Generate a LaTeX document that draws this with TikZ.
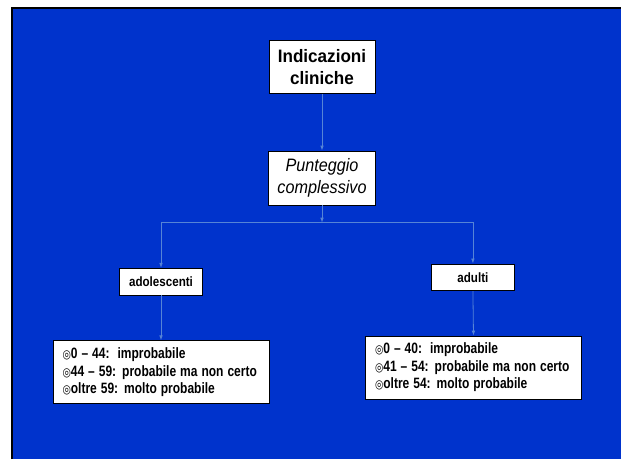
\documentclass[tikz,border=0pt]{standalone}
\usepackage{fontspec}
\usepackage{graphicx}
\setmainfont{Liberation Sans}
\newfontfamily\symfont{DejaVu Sans}
\usetikzlibrary{arrows.meta}
\definecolor{slideblue}{RGB}{0,51,204}
\definecolor{linkblue}{RGB}{86,132,214}
\tikzset{
  box/.style={draw=black, line width=0.8pt, fill=white, inner sep=0pt, align=center, text=black},
  link/.style={draw=linkblue, line width=0.8pt},
  tip/.style={-{Latex[length=5pt,width=3.6pt]}},
  listbox/.style={box, align=left, text width=197pt, inner xsep=9.5pt, minimum height=63pt,
     font=\fontsize{15}{17.5}\selectfont\bfseries}
}
\newcommand{\sq}[2]{\scalebox{#1}[1]{#2}}
\newcommand{\blt}{{\symfont\fontsize{12}{17.5}\selectfont\mdseries ◎}}
\begin{document}
\begin{tikzpicture}[x=1pt,y=-1pt]
\useasboundingbox (0,0) rectangle (621,459);
\fill[white] (0,0) rectangle (621,459);
\fill[slideblue] (12,8) rectangle (621,459);
\draw[black, line width=2pt] (12,459) -- (12,8) -- (621,8);

\node[box, minimum width=106pt, minimum height=53.3pt, font=\fontsize{18}{22}\selectfont\bfseries] (ind) at (322,66.7) {\sq{0.95}{Indicazioni}\\\sq{0.95}{cliniche}};
\node[box, minimum width=107pt, minimum height=54pt, font=\fontsize{18}{22}\selectfont\itshape] (pun) at (322,178) {\sq{0.9}{Punteggio}\\\sq{0.9}{complessivo}};
\node[box, minimum width=83pt, minimum height=26.7pt, font=\fontsize{13.5}{16}\selectfont\bfseries] (ado) at (161,281.7) {\sq{0.86}{adolescenti}};
\node[box, minimum width=82.3pt, minimum height=26.7pt, font=\fontsize{13.5}{16}\selectfont\bfseries] (adu) at (472.9,277.3) {\sq{0.86}{adulti}};
\node[listbox] (l1) at (161,372.3) {\sq{0.8}{\blt0 – 44:\ \ improbabile}\\\sq{0.8}{\blt44 – 59: probabile ma non certo}\\\sq{0.8}{\blt oltre 59: molto probabile}};
\node[listbox] (l2) at (473.5,367.5) {\sq{0.8}{\blt0 – 40:\ \ improbabile}\\\sq{0.8}{\blt41 – 54: probabile ma non certo}\\\sq{0.8}{\blt oltre 54: molto probabile}};

\coordinate (j) at (322,222.7);
\coordinate (jl) at (161,222.7);
\coordinate (jr) at (472.9,222.7);
\draw[link, tip] (ind.south) -- (pun.north);
\draw[link, tip] (pun.south) -- (j);
\draw[link, tip] (j) -- (jl) -- (ado.north);
\draw[link, tip] (j) -- (jr) -- (adu.north);
\draw[link, tip] (ado.south) -- (l1.north);
\draw[link, tip] (adu.south) -- (l2.north);
\end{tikzpicture}
\end{document}
